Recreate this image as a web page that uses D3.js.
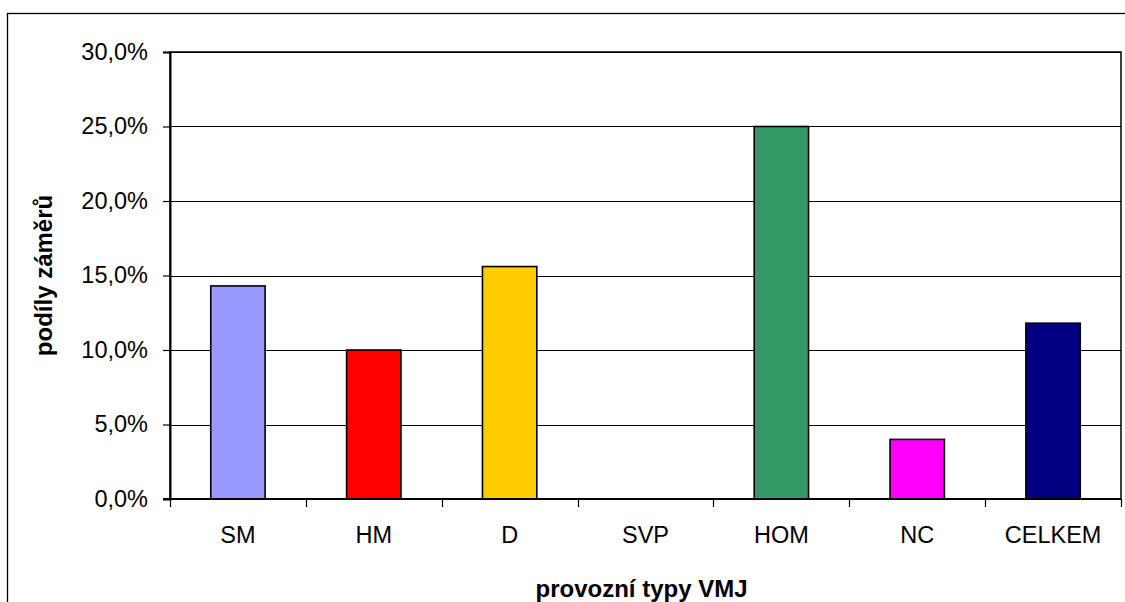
<!DOCTYPE html>
<html>
<head>
<meta charset="utf-8">
<script src="https://cdn.jsdelivr.net/npm/d3@7/dist/d3.min.js"></script>
<style>
  html, body { margin: 0; padding: 0; background: #fff; overflow: hidden; }
  svg { display: block; font-family: "Liberation Sans", Arial, sans-serif; }
</style>
</head>
<body>
<svg id="chart" width="1125" height="602"></svg>
<script>
// Operating types of VMJ and their share of plans
const categories = ["SM", "HM", "D", "SVP", "HOM", "NC", "CELKEM"];
const shares = [0.143, 0.100, 0.156, 0.000, 0.250, 0.040, 0.118];
const barColors = ["#9999FF", "#FF0000", "#FFCC00", "#FFFFFF", "#339966", "#FF00FF", "#000080"];
const yTicks = [0, 0.05, 0.10, 0.15, 0.20, 0.25, 0.30];
const xTitle = "provozní typy VMJ";
const yTitle = "podíly záměrů";

const svg = d3.select("#chart");
const plot = { left: 170, right: 1121, top: 52, bottom: 499 };

const czech = d3.formatLocale({ decimal: ",", thousands: " ", grouping: [3], currency: ["", " Kč"] });
const pct = czech.format(".1%");

const x = d3.scaleBand()
  .domain(categories)
  .range([plot.left, plot.right])
  .paddingInner(0.6)
  .paddingOuter(0.3);

const y = d3.scaleLinear()
  .domain([0, 0.30])
  .range([plot.bottom, plot.top]);

// Outer chart frame (runs past the visible edge on the right and bottom)
svg.append("rect")
  .attr("x", 7.5).attr("y", 13.5)
  .attr("width", 1140).attr("height", 620)
  .attr("fill", "none").attr("stroke", "#000").attr("stroke-width", 1.3);

// Horizontal gridlines
svg.append("g")
  .selectAll("line")
  .data(yTicks)
  .join("line")
  .attr("x1", plot.left).attr("x2", plot.right)
  .attr("y1", d => Math.round(y(d)) + 0.5).attr("y2", d => Math.round(y(d)) + 0.5)
  .attr("stroke", "#000").attr("stroke-width", 1.2);

// Plot area frame
svg.append("rect")
  .attr("x", plot.left).attr("y", plot.top)
  .attr("width", plot.right - plot.left).attr("height", plot.bottom - plot.top)
  .attr("fill", "none").attr("stroke", "#000").attr("stroke-width", 1.5);

// Bars
svg.append("g")
  .selectAll("rect")
  .data(categories.map((c, i) => ({ c, v: shares[i], col: barColors[i] })).filter(d => d.v > 0))
  .join("rect")
  .attr("x", d => x(d.c))
  .attr("width", x.bandwidth())
  .attr("y", d => y(d.v))
  .attr("height", d => y(0) - y(d.v))
  .attr("fill", d => d.col)
  .attr("stroke", "#000")
  .attr("stroke-width", 1.6);

// Y axis
const yAxis = d3.axisLeft(y)
  .tickValues(yTicks)
  .tickSize(7)
  .tickPadding(15)
  .tickFormat(pct);

const gy = svg.append("g")
  .attr("transform", `translate(${plot.left},0)`)
  .call(yAxis);
gy.select(".domain").attr("stroke", "#000").attr("stroke-width", 2);
gy.selectAll(".tick line").attr("stroke", "#000").attr("stroke-width", 1.2);
gy.selectAll(".tick text")
  .attr("font-size", "23.5px")
  .attr("font-family", "'Liberation Sans', Arial, sans-serif")
  .attr("fill", "#000")
  .attr("dy", "0.3em");

// X axis: ticks sit on category boundaries
const step = x.step();
const boundaries = categories.map(c => x(c) - x.paddingOuter() * step).concat([plot.right]);
const gx = svg.append("g");
gx.append("line")
  .attr("x1", plot.left - 7).attr("x2", plot.right)
  .attr("y1", plot.bottom).attr("y2", plot.bottom)
  .attr("stroke", "#000").attr("stroke-width", 2);
gx.selectAll("line.tick")
  .data(boundaries)
  .join("line")
  .attr("class", "tick")
  .attr("x1", d => Math.round(d) + 0.5).attr("x2", d => Math.round(d) + 0.5)
  .attr("y1", plot.bottom).attr("y2", plot.bottom + 8)
  .attr("stroke", "#000").attr("stroke-width", 1.2);
gx.selectAll("text")
  .data(categories)
  .join("text")
  .attr("x", d => x(d) + x.bandwidth() / 2)
  .attr("y", 543)
  .attr("text-anchor", "middle")
  .attr("font-size", "23.5px")
  .attr("fill", "#000")
  .text(d => d);

// Axis titles
svg.append("text")
  .attr("x", (plot.left + plot.right) / 2 - 4)
  .attr("y", 597)
  .attr("text-anchor", "middle")
  .attr("font-size", "24px")
  .attr("font-weight", "bold")
  .attr("fill", "#000")
  .text(xTitle);

svg.append("text")
  .attr("transform", `translate(52,${(plot.top + plot.bottom) / 2}) rotate(-90)`)
  .attr("text-anchor", "middle")
  .attr("font-size", "24px")
  .attr("font-weight", "bold")
  .attr("fill", "#000")
  .text(yTitle);
</script>
</body>
</html>
